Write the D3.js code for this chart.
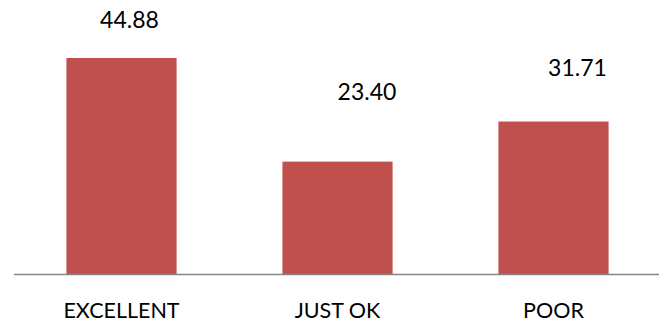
<!DOCTYPE html>
<html>
<head>
<meta charset="utf-8">
<script src="https://cdn.jsdelivr.net/npm/d3@7"></script>
<style>
  body { margin: 0; background: #fff; }
  text { font-family: Lato, "Open Sans", sans-serif; fill: #000; }
</style>
</head>
<body>
<script>
// data
var categories = ["EXCELLENT", "JUST OK", "POOR"];
var values = [44.88, 23.40, 31.71];
var valueLabels = ["44.88", "23.40", "31.71"];

var w = 664, h = 323;

var svg = d3.select("body").append("svg")
    .attr("width", w)
    .attr("height", h);

var x = d3.scaleBand()
    .domain(categories)
    .range([13.5, 661.5])
    .paddingInner(0.49)
    .paddingOuter(0.245);

var y = d3.scaleLinear()
    .domain([0, 50])
    .range([274.5, 33.3]);

// bars
svg.selectAll("rect.bar")
    .data(values)
    .enter()
    .append("rect")
    .attr("class", "bar")
    .attr("x", function(d, i) { return x(categories[i]); })
    .attr("y", function(d) { return y(d); })
    .attr("width", x.bandwidth())
    .attr("height", function(d) { return y(0) - y(d); })
    .attr("fill", "#C0504D");

// value labels were moved by hand in the original, nudge them the same way
var labelNudge = [[8, -30], [29.5, -61.5], [24, -45.5]];
svg.selectAll("text.val")
    .data(values)
    .enter()
    .append("text")
    .attr("class", "val")
    .attr("x", function(d, i) { return x(categories[i]) + x.bandwidth() / 2 + labelNudge[i][0]; })
    .attr("y", function(d, i) { return y(d) + labelNudge[i][1]; })
    .attr("text-anchor", "middle")
    .style("font-size", "23px")
    .text(function(d, i) { return valueLabels[i]; });

// baseline
svg.append("line")
    .attr("x1", 14)
    .attr("x2", 659)
    .attr("y1", y(0))
    .attr("y2", y(0))
    .style("stroke", "#868686")
    .style("stroke-width", 1.5);

// category labels
var xAxis = d3.axisBottom(x).tickSize(0).tickPadding(28);
var gx = svg.append("g")
    .attr("transform", "translate(0," + y(0) + ")")
    .call(xAxis);
gx.select(".domain").remove();
gx.selectAll("text")
    .style("font-family", "Lato, 'Open Sans', sans-serif")
    .style("font-size", "21.5px")
    .attr("fill", "#000");
</script>
</body>
</html>
